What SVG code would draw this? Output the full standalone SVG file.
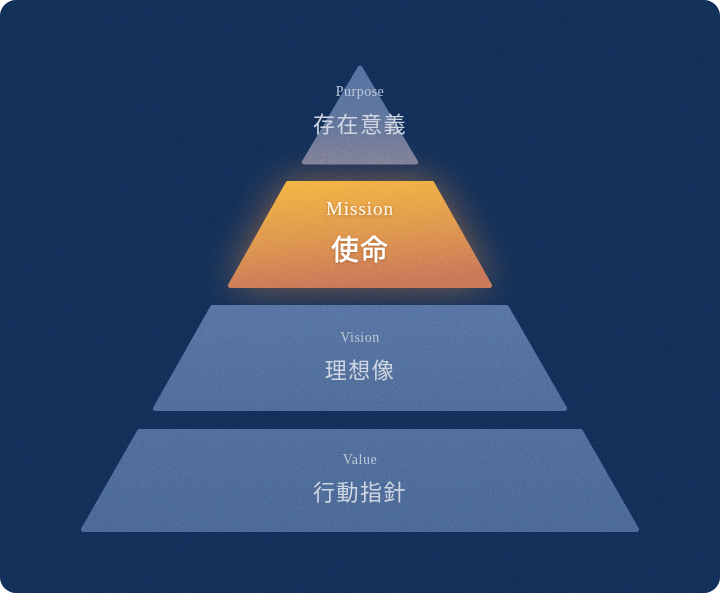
<svg xmlns="http://www.w3.org/2000/svg" width="720" height="593" viewBox="0 0 720 593">
  <defs>
    <style>
      .en { font-family: "Liberation Serif", "DejaVu Serif", serif; text-anchor: middle; }
      .ja { font-family: "Noto Sans CJK JP", "Noto Sans", sans-serif; text-anchor: middle; }
      .lbl { font-size: 14px; fill: #bcc7d8; letter-spacing: 0.5px; }
      .jp { font-size: 22px; fill: #cfd6e2; letter-spacing: 1.5px; }
      .layer { stroke-width: 5; stroke-linejoin: round; }
    </style>
    <linearGradient id="gPurpose" x1="0" y1="0" x2="0" y2="1">
      <stop offset="0" stop-color="#5574a3"/>
      <stop offset="0.55" stop-color="#62779e"/>
      <stop offset="1" stop-color="#83839b"/>
    </linearGradient>
    <linearGradient id="gMission" x1="0.3" y1="0" x2="0.5" y2="1">
      <stop offset="0" stop-color="#f2b545"/>
      <stop offset="0.5" stop-color="#e09a4f"/>
      <stop offset="1" stop-color="#cb795b"/>
    </linearGradient>
    <linearGradient id="gVision" x1="0" y1="0" x2="0" y2="1">
      <stop offset="0" stop-color="#5977a4"/>
      <stop offset="1" stop-color="#516f9c"/>
    </linearGradient>
    <linearGradient id="gValue" x1="0" y1="0" x2="0" y2="1">
      <stop offset="0" stop-color="#52709e"/>
      <stop offset="1" stop-color="#4d6b98"/>
    </linearGradient>
    <filter id="glow" x="-50%" y="-80%" width="200%" height="260%">
      <feGaussianBlur stdDeviation="20"/>
    </filter>
    <filter id="grain" x="0" y="0" width="100%" height="100%" color-interpolation-filters="sRGB">
      <feTurbulence type="fractalNoise" baseFrequency="0.9" numOctaves="2" seed="7"/>
      <feColorMatrix type="matrix" values="0.33 0.33 0.33 0 0  0.33 0.33 0.33 0 0  0.33 0.33 0.33 0 0  0 0 0 0 1"/>
    </filter>
    <filter id="tshadow" x="-20%" y="-40%" width="140%" height="180%">
      <feDropShadow dx="0" dy="1" stdDeviation="1.5" flood-color="#7a3d1a" flood-opacity="0.45"/>
    </filter>
    <clipPath id="card">
      <rect x="0" y="0" width="720" height="593" rx="16"/>
    </clipPath>
  </defs>

  <rect id="background" x="0" y="0" width="720" height="593" rx="16" fill="#12305a"/>

  <g id="mission-glow">
    <polygon points="287,182 433,182 490,286 230,286" fill="#e08a44" opacity="0.6" filter="url(#glow)"/>
  </g>

  <g id="purpose">
    <polygon class="layer" points="360,68 415.5,162 304.5,162" fill="url(#gPurpose)" stroke="url(#gPurpose)" stroke-width="6"/>
    <text class="en lbl" x="360" y="96" font-size="13">Purpose</text>
    <text class="ja jp" x="360" y="132">存在意義</text>
  </g>

  <g id="mission">
    <polygon class="layer" points="288,183.5 432,183.5 489.5,285.5 230.5,285.5" fill="url(#gMission)" stroke="url(#gMission)"/>
    <text class="en" x="360" y="215" font-size="19" letter-spacing="1" fill="#fff7ea" filter="url(#tshadow)">Mission</text>
    <text class="ja" x="360" y="260" font-size="28" font-weight="500" letter-spacing="1" fill="#ffffff" filter="url(#tshadow)">使命</text>
  </g>

  <g id="vision">
    <polygon class="layer" points="212.5,307.5 506.5,307.5 564.5,408.5 155.5,408.5" fill="url(#gVision)" stroke="url(#gVision)"/>
    <text class="en lbl" x="360" y="342">Vision</text>
    <text class="ja jp" x="360" y="378">理想像</text>
  </g>

  <g id="value">
    <polygon class="layer" points="139.5,431.5 580.5,431.5 636.5,529.5 83.5,529.5" fill="url(#gValue)" stroke="url(#gValue)"/>
    <text class="en lbl" x="360" y="464">Value</text>
    <text class="ja jp" x="360" y="500">行動指針</text>
  </g>

  <g id="connectors"/>

  <rect id="grain-overlay" x="0" y="0" width="720" height="593" clip-path="url(#card)" filter="url(#grain)" opacity="0.25" style="mix-blend-mode: overlay"/>
</svg>
